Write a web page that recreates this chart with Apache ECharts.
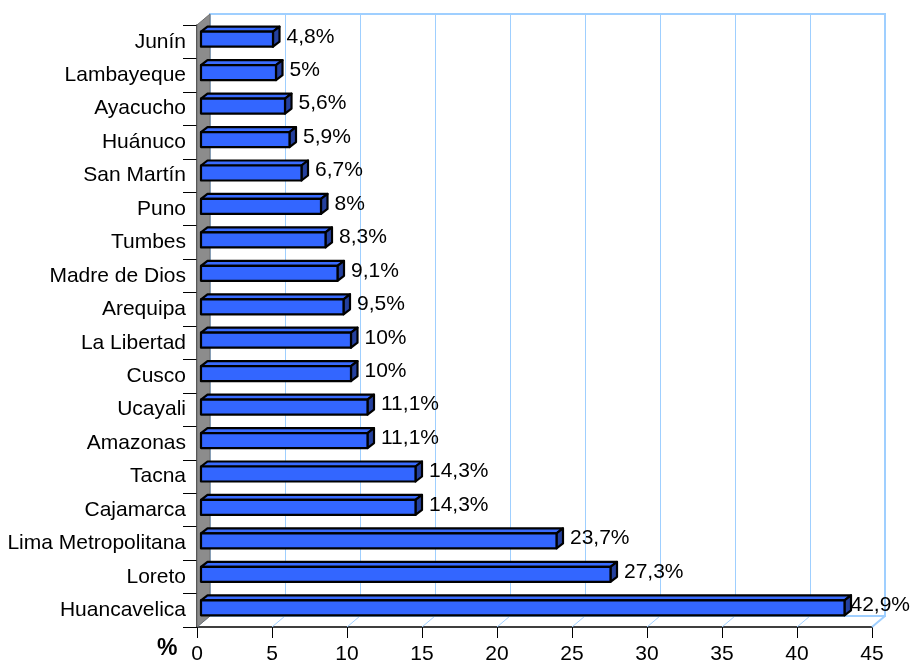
<!DOCTYPE html>
<html>
<head>
<meta charset="utf-8">
<script src="https://cdn.jsdelivr.net/npm/echarts@6/dist/echarts.min.js"></script>
<style>
html,body{margin:0;padding:0;background:#fff;}
#chart{width:913px;height:665px;}
</style>
</head>
<body>
<div id="chart"></div>
<script>
var categories = ['Junín','Lambayeque','Ayacucho','Huánuco','San Martín','Puno','Tumbes','Madre de Dios','Arequipa','La Libertad','Cusco','Ucayali','Amazonas','Tacna','Cajamarca','Lima Metropolitana','Loreto','Huancavelica'];
var values = [4.8,5,5.6,5.9,6.7,8,8.3,9.1,9.5,10,10,11.1,11.1,14.3,14.3,23.7,27.3,42.9];
var xTicks = [0,5,10,15,20,25,30,35,40,45];
var axisTitle = '%';

var FONT = 'Liberation Sans, Arial, sans-serif';
var FS = 21;
var WALL_DX = 13, WALL_DY = -11;   // depth of the 3D walls
var BAR_DX = 6.5, BAR_DY = -5;     // depth of each bar
var BAR_OFF_X = 4;                 // bar front face shift into depth
var GRIDBLUE = '#9FCFFF';
var CHART_W = 913;

var measureCtx = document.createElement('canvas').getContext('2d');
measureCtx.font = FS + 'px ' + FONT;

var chart = echarts.init(document.getElementById('chart'), null, {renderer:'canvas'});

function fmt(v){ return String(v).replace('.', ',') + '%'; }

var option = {
  backgroundColor: '#ffffff',
  animation: false,
  grid: [
    {left:197, right:41, top:25, bottom:38, show:false},
    {left:210, right:28, top:14, bottom:49, show:true, borderColor:GRIDBLUE, borderWidth:2, backgroundColor:'transparent'}
  ],
  xAxis: [
    {gridIndex:0, type:'value', min:0, max:45, interval:5,
     axisLine:{show:true, lineStyle:{color:'#000', width:1.5}},
     axisTick:{show:true, inside:false, length:11, lineStyle:{color:'#000', width:1}},
     axisLabel:{show:true, fontFamily:FONT, fontSize:FS, color:'#000', margin:17},
     splitLine:{show:false}},
    {gridIndex:1, type:'value', min:0, max:45, interval:5,
     axisLine:{show:false}, axisTick:{show:false}, axisLabel:{show:false},
     splitLine:{show:true, lineStyle:{color:GRIDBLUE, width:1}}}
  ],
  yAxis: [
    {gridIndex:0, type:'category', data:categories, inverse:true,
     axisLine:{show:true, lineStyle:{color:'#000', width:1.5}},
     axisTick:{show:true, inside:false, length:14, lineStyle:{color:'#000', width:1}},
     axisLabel:{show:true, fontFamily:FONT, fontSize:FS, color:'#000', margin:11, padding:[0,0,6,0]},
     splitLine:{show:false}},
    {gridIndex:1, type:'category', data:categories, inverse:true,
     axisLine:{show:false}, axisTick:{show:false}, axisLabel:{show:false}, splitLine:{show:false}}
  ],
  graphic: [
    {type:'text', left:157, top:637, style:{text:axisTitle, font:'bold 23px ' + FONT, fill:'#000'}}
  ],
  series: [
    // left gray wall and floor lines
    {type:'custom', xAxisIndex:0, yAxisIndex:0, z:1,
     data: xTicks.map(function(t){ return [t]; }),
     renderItem: function(params, api){
       var cs = params.coordSys;
       var p = api.coord([api.value(0), 0]);
       var x = p[0], yb = cs.y + cs.height;
       var children = [
         {type:'line', shape:{x1:x, y1:yb, x2:x+WALL_DX, y2:yb+WALL_DY}, style:{stroke:GRIDBLUE, lineWidth:1}}
       ];
       if (params.dataIndex === 0) {
         children.push({type:'polygon', shape:{points:[[cs.x, cs.y],[cs.x+WALL_DX, cs.y+WALL_DY],[cs.x+WALL_DX, yb+WALL_DY],[cs.x, yb]]},
                        style:{fill:'#8C8C8C', stroke:'#6f6f6f', lineWidth:1}});
         children.push({type:'line', shape:{x1:cs.x+cs.width, y1:yb, x2:cs.x+cs.width+WALL_DX, y2:yb+WALL_DY}, style:{stroke:GRIDBLUE, lineWidth:2}});
       }
       return {type:'group', children:children};
     }},
    // 3D bars
    {type:'custom', xAxisIndex:0, yAxisIndex:0, z:5,
     data: values.map(function(v,i){ return [v, i]; }),
     renderItem: function(params, api){
       var v = api.value(0), i = api.value(1);
       var pe = api.coord([v, i]);
       var p0 = api.coord([0, i]);
       var L = p0[0] + BAR_OFF_X, R = pe[0] + BAR_OFF_X;
       var yc = pe[1];
       var top = yc - 10, bot = yc + 5;
       var dx = BAR_DX, dy = BAR_DY;
       var stroke = {stroke:'#000', lineWidth:2.2, lineJoin:'round'};
       var txt = fmt(v);
       var tw = measureCtx.measureText(txt).width;
       var tx = Math.min(R + dx + 7, CHART_W - 3 - tw);
       return {type:'group', children:[
         {type:'polygon', shape:{points:[[L,top],[L+dx,top+dy],[R+dx,top+dy],[R,top]]},
          style:Object.assign({fill:'#3A6CFF'}, stroke)},
         {type:'polygon', shape:{points:[[R,top],[R+dx,top+dy],[R+dx,bot+dy],[R,bot]]},
          style:Object.assign({fill:'#24409E'}, stroke)},
         {type:'rect', shape:{x:L, y:top, width:R-L, height:bot-top},
          style:Object.assign({fill:'#3366FF'}, stroke)},
         {type:'text', x:tx, y:(top+dy+bot)/2, z2:10,
          style:{text:txt, font:FS + 'px ' + FONT, fill:'#000', textAlign:'left', textVerticalAlign:'middle'}}
       ]};
     }}
  ]
};
chart.setOption(option);
</script>
</body>
</html>
